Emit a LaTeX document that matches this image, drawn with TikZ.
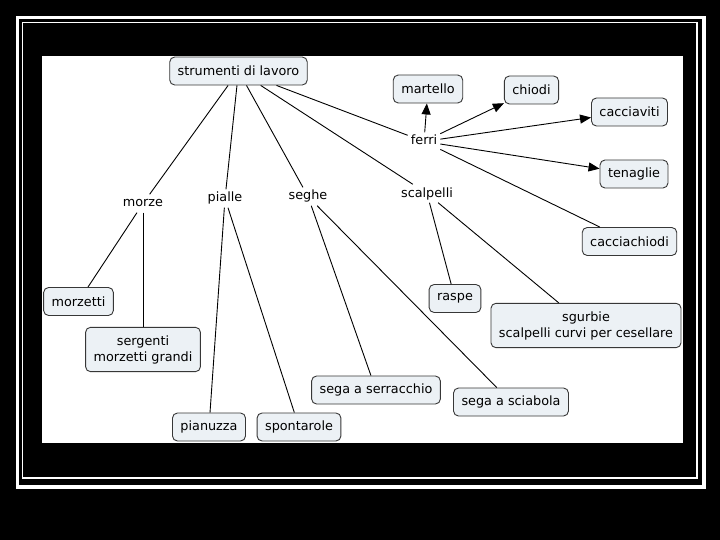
\documentclass[tikz,border=0pt]{standalone}
\usepackage{fontspec}
\setmainfont{DejaVu Sans}
\usetikzlibrary{arrows.meta}

\definecolor{boxfill}{RGB}{236,241,245}
\definecolor{boxline}{RGB}{55,55,55}

\tikzset{
  concept/.style={draw=boxline, fill=boxfill, rounded corners=5pt, line width=0.9pt,
    inner xsep=8pt, minimum height=28pt, align=center,
    font=\fontsize{12.8}{16}\selectfont},
  concepttwo/.style={concept, inner ysep=8pt},
  linkword/.style={inner sep=3pt, text height=9.5pt, text depth=2.5pt,
    font=\fontsize{12.8}{16}\selectfont},
  link/.style={line width=0.9pt},
  linkarrow/.style={line width=0.9pt, -{Triangle[length=11pt,width=9pt]}}
}

\begin{document}
\begin{tikzpicture}[x=1pt,y=-1pt]

% ===== Sfondo e cornice =====
\useasboundingbox (0,0) rectangle (720,540);
\fill[black] (0,0) rectangle (720,540);
\draw[white, line width=3.5pt] (17.5,17.5) rectangle (704,487);
\draw[white, line width=1.3pt] (22.5,22.5) rectangle (697,478);
\fill[white] (42,56) rectangle (683,443);

% ===== Concetti =====
\node[concept] (strumenti) at (238.5,71) {strumenti di lavoro};

\node[concept] (martello) at (428,89) {martello};
\node[concept] (chiodi) at (531.5,90) {chiodi};
\node[concept] (cacciaviti) at (629.5,112) {cacciaviti};
\node[concept] (tenaglie) at (634,174) {tenaglie};
\node[concept] (cacciachiodi) at (629.5,241.5) {cacciachiodi};

\node[concept] (morzetti) at (78.5,301.5) {morzetti};
\node[concepttwo] (sergenti) at (143,349.5) {sergenti\\morzetti grandi};

\node[concept] (pianuzza) at (209,427) {pianuzza};
\node[concept] (spontarole) at (299,427) {spontarole};

\node[concept] (serracchio) at (376,390) {sega a serracchio};
\node[concept] (sciabola) at (511,402) {sega a sciabola};

\node[concept] (raspe) at (455,298.5) {raspe};
\node[concepttwo] (sgurbie) at (586,325.5) {sgurbie\\scalpelli curvi per cesellare};

% ===== Parole di collegamento =====
\node[linkword] (ferri) at (424,141.5) {ferri};
\node[linkword] (morze) at (143,203.5) {morze};
\node[linkword] (pialle) at (225,198.5) {pialle};
\node[linkword] (seghe) at (308,196.5) {seghe};
\node[linkword] (scalpelli) at (427,193.5) {scalpelli};

% ===== Collegamenti =====
\foreach \w in {morze,pialle,seghe,scalpelli,ferri}
  \draw[link] (strumenti) -- (\w);

\foreach \c in {martello,chiodi,cacciaviti,tenaglie}
  \draw[linkarrow] (ferri) -- (\c);
\draw[link] (ferri) -- (cacciachiodi);

\draw[link] (morze) -- (morzetti);
\draw[link] (morze) -- (sergenti);

\draw[link] (pialle) -- (pianuzza);
\draw[link] (pialle) -- (spontarole);

\draw[link] (seghe) -- (serracchio);
\draw[link] (seghe) -- (sciabola);

\draw[link] (scalpelli) -- (raspe);
\draw[link] (scalpelli) -- (sgurbie);

\end{tikzpicture}
\end{document}
